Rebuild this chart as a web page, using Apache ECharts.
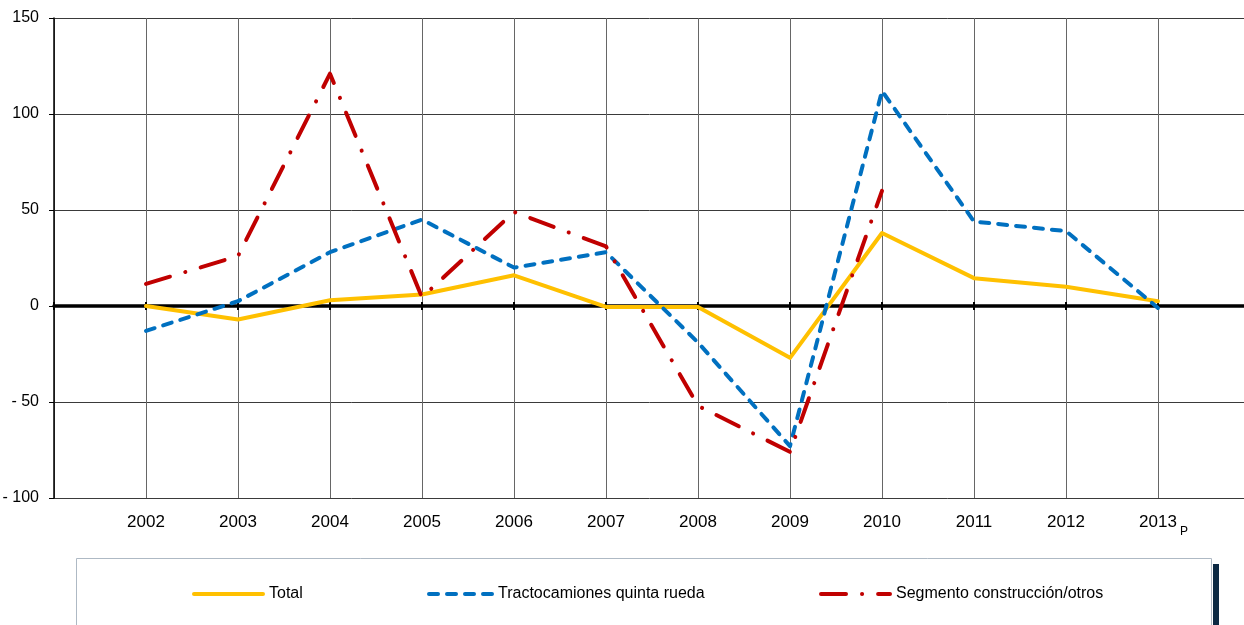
<!DOCTYPE html>
<html>
<head>
<meta charset="utf-8">
<script src="https://cdn.jsdelivr.net/npm/echarts@6/dist/echarts.min.js"></script>
<style>
html,body{margin:0;padding:0;background:#fff;overflow:hidden;}
#chart{width:1244px;height:625px;}
</style>
</head>
<body>
<div id="chart"></div>
<script>
const years = ['2002','2003','2004','2005','2006','2007','2008','2009','2010','2011','2012','2013'];
const total = [0, -7, 3, 6, 16, -0.5, -0.5, -27, 38, 14.5, 10, 2.5];
const tracto = [-13, 2.5, 28, 45, 20, 28, -19, -73, 112, 44, 39, -1];
const segmento = [11.5, 26, 121, 4.5, 49, 31, -52, -76, 60, null, null, null];
const yTicks = [-100, -50, 0, 50, 100, 150];
const provisionalYear = '2013';

const FONT = 'Liberation Sans, Arial, sans-serif';
const cats = [''].concat(years, ['']);
const pad = a => [null].concat(a, [null]);

const GRID_TOP = 18, GRID_H = 480;
const yMin = yTicks[0], yMax = yTicks[yTicks.length - 1];
// offset that moves a bottom axis up to the zero line
const zeroOffset = -GRID_H * (0 - yMin) / (yMax - yMin);

const chart = echarts.init(document.getElementById('chart'), null, {renderer: 'canvas'});
const baseX = {type: 'category', data: cats, boundaryGap: false};
chart.setOption({
  animation: false,
  backgroundColor: '#fff',
  grid: {left: 54, top: GRID_TOP, width: 1196, height: GRID_H, containLabel: false, outerBoundsMode: 'none'},
  xAxis: [
    Object.assign({}, baseX, {
      position: 'bottom',
      axisLine: {show: false, onZero: false},
      axisTick: {show: false},
      splitLine: {show: true, lineStyle: {color: '#666', width: 1}},
      axisLabel: {
        interval: 0, margin: 8, color: '#000', fontFamily: FONT, fontSize: 17,
        formatter: v => v === '' ? '' : (v === provisionalYear ? '{s|}{a|' + v + '}{p|P}' : '{s|}{a|' + v + '}{p| }'),
        rich: {
          s: {width: 11},
          a: {fontSize: 17, fontFamily: FONT, color: '#000'},
          p: {fontSize: 12, fontFamily: FONT, color: '#000', padding: [20, 0, 0, 3], width: 8}
        }
      }
    }),
    Object.assign({}, baseX, {
      position: 'bottom',
      axisLine: {show: true, onZero: true, lineStyle: {color: '#000', width: 3.5}},
      axisTick: {show: true, length: 4, lineStyle: {color: '#000', width: 2}},
      axisLabel: {show: false},
      splitLine: {show: false}
    }),
    Object.assign({}, baseX, {
      position: 'bottom', offset: zeroOffset,
      axisLine: {show: false, onZero: false},
      axisTick: {show: true, inside: true, length: 4, lineStyle: {color: '#000', width: 2}},
      axisLabel: {show: false},
      splitLine: {show: false}
    })
  ],
  yAxis: {
    type: 'value', min: yMin, max: yMax, interval: 50,
    axisLine: {show: true, onZero: false, lineStyle: {color: '#000', width: 1.5}},
    axisTick: {show: true, length: 5, lineStyle: {color: '#000', width: 1}},
    splitLine: {show: true, lineStyle: {color: '#3a3a3a', width: 1}},
    axisLabel: {
      margin: 15, color: '#000', fontFamily: FONT, fontSize: 16,
      formatter: v => v < 0 ? '- ' + Math.abs(v) : String(v)
    }
  },
  legend: [
    {data: ['Total'], left: 187, top: 581, itemWidth: 69},
    {data: ['Tractocamiones quinta rueda'], left: 422, top: 581, itemWidth: 63},
    {data: ['Segmento construcción/otros'], left: 814, top: 581, itemWidth: 69}
  ].map(l => Object.assign(l, {
    itemHeight: 14, itemGap: 0, orient: 'horizontal',
    itemStyle: {opacity: 0},
    lineStyle: {width: 4},
    textStyle: {fontFamily: FONT, fontSize: 16, color: '#000', padding: [0, 0, 0, 1]}
  })),
  graphic: [
    {type: 'rect', left: 76, top: 558, z: -10, shape: {width: 1135, height: 90},
     style: {fill: '#fff', stroke: '#aeb9c4', lineWidth: 1}},
    {type: 'rect', left: 1213, top: 564, z: -10, shape: {width: 6, height: 70},
     style: {fill: '#0c2943'}}
  ],
  series: [
    {name: 'Total', type: 'line', data: pad(total), symbol: 'none', xAxisIndex: 0,
     lineStyle: {color: '#FFC000', width: 4, cap: 'round', join: 'round'}, itemStyle: {color: '#FFC000'}},
    {name: 'Tractocamiones quinta rueda', type: 'line', data: pad(tracto), symbol: 'none', xAxisIndex: 0,
     lineStyle: {color: '#0070C0', width: 4, type: [9, 9], cap: 'round', join: 'round'}, itemStyle: {color: '#0070C0'}},
    {name: 'Segmento construcción/otros', type: 'line', data: pad(segmento), symbol: 'none', xAxisIndex: 0,
     lineStyle: {color: '#C00000', width: 4, type: [25, 16, 0.1, 16], cap: 'round', join: 'round'}, itemStyle: {color: '#C00000'}}
  ]
});
</script>
</body>
</html>
